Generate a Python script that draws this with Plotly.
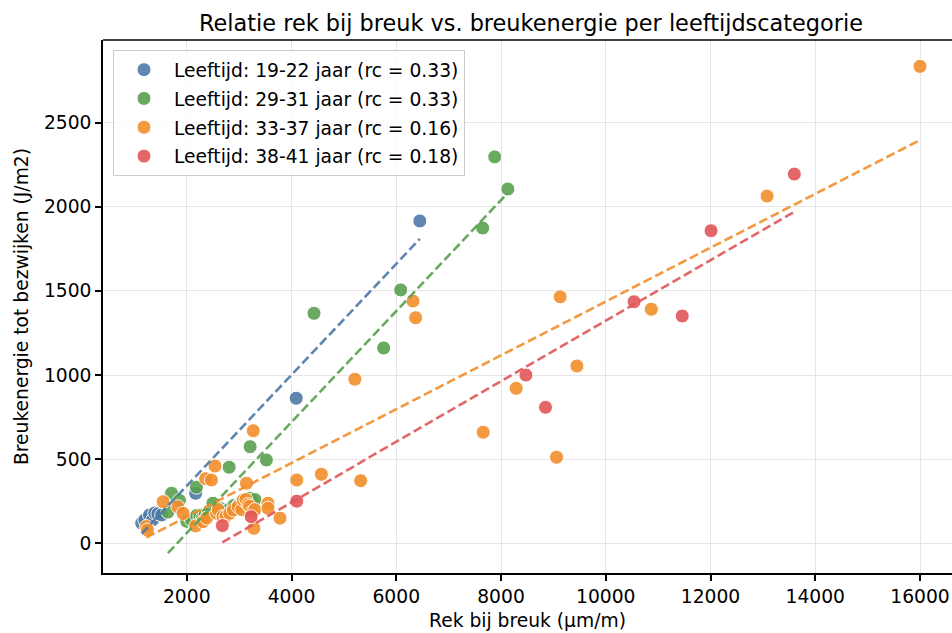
import numpy as np
import plotly.graph_objects as go

# Leeftijdscategorieen, kleuren en richtingscoefficienten (rc) van de trendlijnen
groups = ["19-22", "29-31", "33-37", "38-41"]
colors = ["#4e79a7", "#59a14f", "#f28e2b", "#e15759"]
slopes = [0.33, 0.33, 0.16, 0.18]
intercepts = [-319, -600, -163, -477]

# Rek bij breuk (um/m) en breukenergie (J/m2) per categorie
x_19_22 = [1140, 1200, 1290, 1350, 1390, 1450, 1520, 2170, 4090, 6450]
y_19_22 = [119, 139, 168, 140, 180, 175, 168, 297, 862, 1916]

x_29_31 = [1640, 1710, 1860, 2000, 2090, 2185, 2190, 2250, 2300, 2350, 2410, 2500,
           2540, 2650, 2700, 2800, 2810, 2900, 3000, 3060, 3100, 3200, 3240, 3300,
           3210, 3520, 4430, 5760, 6085, 7650, 7880, 8130]
y_29_31 = [185, 297, 255, 130, 139, 333, 165, 160, 150, 170, 178, 238,
           190, 205, 190, 200, 452, 225, 230, 250, 240, 268, 250, 260,
           574, 495, 1367, 1161, 1506, 1874, 2297, 2106]

x_33_37 = [1230, 1250, 1550, 1830, 1930, 2170, 2310, 2360, 2380, 2470, 2540, 2570,
           2600, 2690, 2750, 2820, 2890, 2980, 3050, 3080, 3130, 3140, 3170, 3200,
           3250, 3270, 3280, 3300, 3550, 3550, 3780, 4100, 4570, 5210, 5320, 6320,
           6370, 7660, 8290, 9060, 9130, 9450, 10870, 13080, 16000]
y_33_37 = [99, 79, 247, 217, 178, 103, 128, 384, 150, 376, 459, 178,
           200, 158, 160, 178, 198, 217, 200, 257, 260, 357, 230, 220,
           185, 669, 89, 200, 238, 208, 149, 376, 410, 975, 372, 1440,
           1341, 660, 921, 511, 1465, 1054, 1391, 2064, 2835]

x_38_41 = [2680, 3230, 4100, 8475, 8850, 10540, 11460, 12010, 13600]
y_38_41 = [105, 158, 250, 1000, 808, 1436, 1351, 1858, 2195]

xs = [x_19_22, x_29_31, x_33_37, x_38_41]
ys = [y_19_22, y_29_31, y_33_37, y_38_41]

x_ticks = list(range(2000, 16001, 2000))
y_ticks = list(range(0, 2501, 500))

FONT = "DejaVu Sans"
fs = 18.7

fig = go.Figure()

for g, c, rc, x, y in zip(groups, colors, slopes, xs, ys):
    fig.add_trace(go.Scatter(
        x=x, y=y, mode="markers",
        name=f"Leeftijd: {g} jaar (rc = {rc:.2f})",
        legendgroup=g,
        marker=dict(color=c, size=14, opacity=0.9,
                    line=dict(color="white", width=1)),
    ))

# Trendlijnen over het bereik van elke categorie
for g, c, rc, b, x in zip(groups, colors, slopes, intercepts, xs):
    xl = np.array([min(x), max(x)], dtype=float)
    fig.add_trace(go.Scatter(
        x=xl, y=rc * xl + b, mode="lines", showlegend=False,
        hoverinfo="skip",
        line=dict(color=c, width=2.6, dash="9px,4px"),
        opacity=0.9,
    ))

axis_common = dict(
    showline=True, linecolor="black", linewidth=1.5,
    ticks="outside", ticklen=6, tickwidth=1.5, tickcolor="black",
    showgrid=True, gridcolor="#e6e6e6", gridwidth=1.3, zeroline=False,
    tickfont=dict(family=FONT, size=fs, color="black"),
)

fig.update_layout(
    width=952, height=633,
    margin=dict(l=103, r=0, t=40, b=60),
    plot_bgcolor="white", paper_bgcolor="white",
    font=dict(family=FONT, size=fs, color="black"),
    title=dict(text="Relatie rek bij breuk vs. breukenergie per leeftijdscategorie",
               x=531 / 952, xanchor="center", xref="container",
               y=1 - 22.7 / 633, yanchor="middle",
               font=dict(family=FONT, size=22.4, color="black")),
    xaxis=dict(range=[401, 16611], tickvals=x_ticks,
               ticktext=[str(v) for v in x_ticks],
               title=dict(text="Rek bij breuk (µm/m)", standoff=8,
                          font=dict(family=FONT, size=fs, color="black")),
               **axis_common),
    yaxis=dict(range=[-177, 2992], tickvals=y_ticks,
               ticktext=[str(v) for v in y_ticks],
               title=dict(text="Breukenergie tot bezwijken (J/m2)", standoff=10,
                          font=dict(family=FONT, size=fs, color="black")),
               **axis_common),
    legend=dict(x=10 / 849, y=1 - 10 / 533, xanchor="left", yanchor="top",
                bgcolor="rgba(255,255,255,0.8)", bordercolor="#cccccc",
                borderwidth=1, font=dict(family=FONT, size=fs, color="black"),
                tracegroupgap=1.5, itemwidth=50),
    showlegend=True,
)

# bovenrand van het assenvlak
fig.add_shape(type="line", xref="paper", yref="paper", x0=0, x1=1, y0=1, y1=1,
              line=dict(color="black", width=1.5))

fig.write_html("out.html")
